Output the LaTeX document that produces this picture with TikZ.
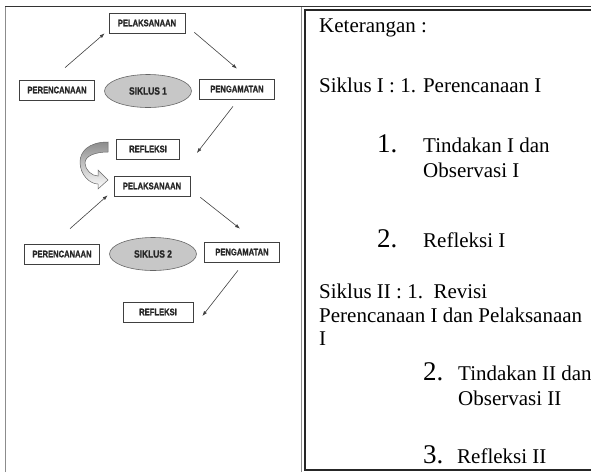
\documentclass[tikz,border=0pt]{standalone}
\usepackage{fontspec}
\setmainfont{Liberation Serif}
\newfontfamily\diafont[FakeStretch=0.8,FakeBold=1.2]{Liberation Sans Bold}
\usetikzlibrary{arrows.meta,shapes.geometric}

\begin{document}
\begin{tikzpicture}[x=1pt,y=-1pt,box/.style={draw=black!75,line width=0.7pt,fill=white,minimum height=20pt,inner sep=0pt,font=\diafont\fontsize{9.5}{9.5}\selectfont,text=black!85},cyc/.style={ellipse,draw=black!60,fill=black!22,line width=0.6pt,minimum width=87pt,minimum height=33pt,inner sep=0pt,font=\diafont\fontsize{10.5}{10.5}\selectfont,text=black!85},arr/.style={-{Latex[length=5pt,width=3.5pt]},draw=black!75,line width=0.6pt},note/.style={anchor=base west,inner sep=0pt,font=\fontsize{21}{24}\selectfont},num/.style={anchor=base west,inner sep=0pt,font=\fontsize{27}{27}\selectfont}]
\useasboundingbox (0,0) rectangle (591,472);
\draw[black!45,line width=1pt] (5,472) -- (5,6.5);
\draw[black!45,line width=1pt] (301,6.5) -- (301,472);
\draw[black!80,line width=1.2pt] (5,6.5) -- (591,6.5);
\draw[black!85,line width=1.3pt] (305,10) rectangle (600,470);
\node[box,minimum width=76pt] (pelaksanaan1) at (147,23) {PELAKSANAAN};
\node[box,minimum width=75pt] (perencanaan1) at (57,90) {PERENCANAAN};
\node[cyc] (siklus1) at (148,91) {SIKLUS 1};
\node[box,minimum width=75pt] (pengamatan1) at (237,89) {PENGAMATAN};
\node[box,minimum width=63pt] (refleksi1) at (148,149) {REFLEKSI};
\node[box,minimum width=76pt] (pelaksanaan2) at (152,186) {PELAKSANAAN};
\node[box,minimum width=75pt] (perencanaan2) at (62,254) {PERENCANAAN};
\node[cyc] (siklus2) at (153,254) {SIKLUS 2};
\node[box,minimum width=75pt] (pengamatan2) at (242,252) {PENGAMATAN};
\node[box,minimum width=70pt] (refleksi2) at (158,312) {REFLEKSI};
\draw[arr] ([xshift=8pt,yshift=12pt]perencanaan1.north) -- ([xshift=-4pt]pelaksanaan1.south west);
\draw[arr] ([xshift=9pt,yshift=1pt]pelaksanaan1.south east) -- ([yshift=10pt]pengamatan1.north);
\draw[arr] ([xshift=-4pt,yshift=-7pt]pengamatan1.south) -- ([xshift=17pt,yshift=-4pt]refleksi1.east);
\draw[arr] ([xshift=8pt,yshift=15pt]perencanaan2.north) -- ([xshift=-6pt,yshift=1pt]pelaksanaan2.south west);
\draw[arr] ([xshift=10pt,yshift=-1pt]pelaksanaan2.south east) -- ([xshift=-2pt,yshift=13pt]pengamatan2.north);
\draw[arr] ([xshift=-4pt,yshift=-8pt]pengamatan2.south) -- ([xshift=9pt,yshift=-4pt]refleksi2.east);
\draw[black!60,line width=0.5pt,top color=black!45,bottom color=white] (108,142) .. controls (88,142) and (80,152) .. (80,162) .. controls (80,175) and (90,184) .. (98,184) -- (98,189) -- (108,180) -- (98,170) -- (98,176) .. controls (92,176) and (85,170) .. (85,163) .. controls (85,156) and (95,152) .. (108,152) -- cycle;
\node[note] (keterangan) at (319,32) {Keterangan :};
\node[note] (siklusI) at (319,92) {Siklus I : 1. Perencanaan I};
\node[num] (noI1) at (377,152) {1.};
\node[note] (tindakanI) at (423,152) {Tindakan I dan};
\node[note] (observasiI) at (423,177) {Observasi I};
\node[num] (noI2) at (377,247) {2.};
\node[note] (refleksiI) at (423,247) {Refleksi I};
\node[note] (siklusII) at (319,298) {Siklus II : 1.\ \ Revisi};
\node[note] (revisiII) at (319,322) {Perencanaan I dan Pelaksanaan};
\node[note] (revisiIIb) at (319,345) {I};
\node[num] (noII2) at (423,380) {2.};
\node[note] (tindakanII) at (458,380) {Tindakan II dan};
\node[note] (observasiII) at (458,405) {Observasi II};
\node[num] (noII3) at (423,463) {3.};
\node[note] (refleksiII) at (457,463) {Refleksi II};
\end{tikzpicture}
\end{document}
